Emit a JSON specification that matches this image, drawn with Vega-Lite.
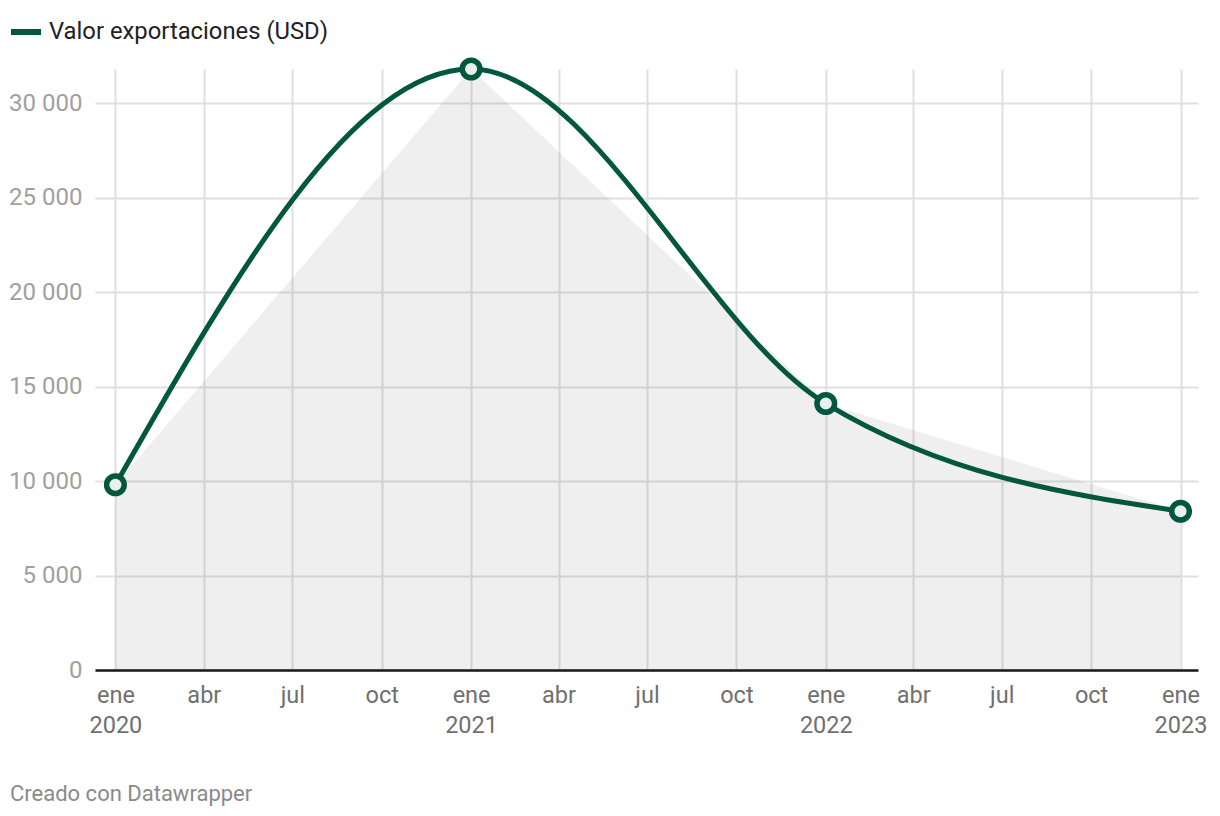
{
  "$schema": "https://vega.github.io/schema/vega-lite/v6.json",
  "autosize": {"type": "none"},
  "width": 1103,
  "height": 601,
  "padding": {"left": 95, "top": 69, "right": 22, "bottom": 146},
  "background": "white",
  "config": {"view": {"stroke": null}},
  "data": {
    "values": [
      {"fecha": "2020-01-01", "valor": 9800, "serie": "Valor exportaciones (USD)"},
      {"fecha": "2021-01-01", "valor": 31800, "serie": "Valor exportaciones (USD)"},
      {"fecha": "2022-01-01", "valor": 14100, "serie": "Valor exportaciones (USD)"},
      {"fecha": "2023-01-01", "valor": 8400, "serie": "Valor exportaciones (USD)"}
    ]
  },
  "title": {
    "text": "Creado con Datawrapper",
    "orient": "bottom",
    "anchor": "start",
    "frame": "group",
    "dx": -85,
    "offset": 47,
    "font": "Roboto",
    "fontSize": 22,
    "fontWeight": "normal",
    "color": "#8a8a8a"
  },
  "encoding": {
    "x": {
      "field": "fecha",
      "type": "temporal",
      "scale": {
        "type": "utc",
        "nice": false,
        "domain": ["2019-12-11", "2023-01-19"]
      },
      "axis": {
        "title": null,
        "tickCount": {"interval": "month", "step": 3},
        "labelExpr": "utcmonth(datum.value) == 0 ? ['ene', '' + utcyear(datum.value)] : (utcmonth(datum.value) == 3 ? 'abr' : (utcmonth(datum.value) == 6 ? 'jul' : 'oct'))",
        "labelFont": "Roboto",
        "labelFontSize": 23.5,
        "labelColor": "#707070",
        "labelLineHeight": 30,
        "labelPadding": 13,
        "labelFlush": false,
        "labelOverlap": false,
        "ticks": false,
        "domain": true,
        "domainColor": "#1a1a1a",
        "domainWidth": 2.5,
        "grid": true,
        "gridColor": "#e0e0e0",
        "gridWidth": 2
      }
    },
    "y": {
      "field": "valor",
      "type": "quantitative",
      "scale": {"domain": [0, 31800], "nice": false, "zero": true},
      "axis": {
        "title": null,
        "values": [0, 5000, 10000, 15000, 20000, 25000, 30000],
        "labelExpr": "replace(format(datum.value, ','), ',', ' ')",
        "labelFont": "Roboto",
        "labelFontSize": 24,
        "labelColor": "#a0a0a0",
        "labelPadding": 13,
        "ticks": false,
        "domain": false,
        "grid": true,
        "gridColor": "#e0e0e0",
        "gridWidth": 2
      }
    }
  },
  "layer": [
    {
      "mark": {"type": "area", "interpolate": "linear", "color": "#000000", "opacity": 0.063}
    },
    {
      "mark": {"type": "line", "interpolate": "monotone", "strokeWidth": 5, "strokeCap": "round"},
      "encoding": {
        "color": {
          "field": "serie",
          "type": "nominal",
          "scale": {"range": ["#03573e"]},
          "legend": {
            "title": null,
            "orient": "none",
            "legendX": -87,
            "legendY": -55,
            "symbolType": "stroke",
            "symbolSize": 900,
            "symbolStrokeWidth": 6,
            "labelFont": "Roboto",
            "labelFontSize": 23.8,
            "labelColor": "#222222",
            "labelOffset": 5,
            "labelLimit": 0
          }
        }
      }
    },
    {
      "mark": {"type": "point", "filled": false, "fill": "#e8f0ed", "fillOpacity": 1, "stroke": "#03573e", "strokeWidth": 5.5, "size": 310, "opacity": 1}
    }
  ]
}
